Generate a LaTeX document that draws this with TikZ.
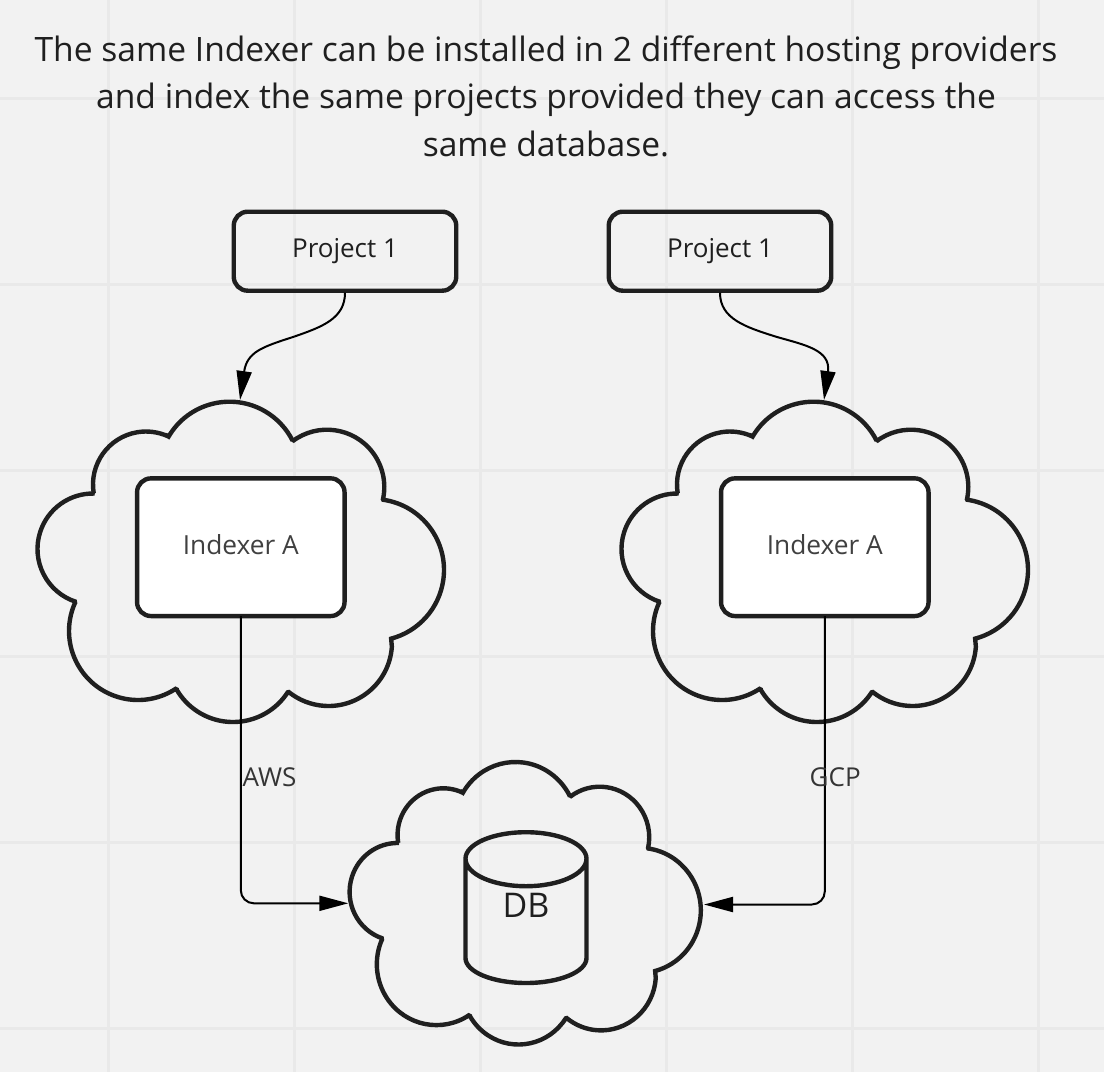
\documentclass[tikz,border=0pt]{standalone}
\usepackage{fontspec}
\setmainfont{Open Sans}
\usetikzlibrary{arrows.meta}
\definecolor{bgc}{HTML}{F2F2F2}
\definecolor{gridc}{HTML}{E9E9E9}
\definecolor{inkc}{HTML}{1F1F1F}
\definecolor{softc}{HTML}{404040}
\newcommand{\lobe}[5]{-- ([shift={(#4:#3)}]#1,-#2) arc[start angle=#4,end angle=#5,radius=#3]}
\tikzset{
  x=1pt,y=1pt,
  gridline/.style={draw=gridc,line width=3pt},
  outline/.style={draw=inkc,line width=4.4pt,line join=miter,miter limit=1.6},
  box/.style={draw=inkc,line width=4.4pt,rectangle,rounded corners=14pt,outer sep=0pt,inner sep=0pt,text=inkc},
  projectbox/.style={box,minimum width=222.5pt,minimum height=79pt,font=\fontsize{26}{30}\selectfont},
  indexerbox/.style={box,fill=white,minimum width=207.5pt,minimum height=137.7pt,text=softc,font=\fontsize{26.3}{30}\selectfont},
  link/.style={draw=black,line width=2pt},
  headed/.style={link,-{Triangle[length=29pt,width=15pt]}},
  tag/.style={text=inkc!90!white,inner sep=0pt,font=\fontsize{26}{30}\selectfont},
  cloudshape/.pic={
    \path[outline] (167.7,-436)
      \lobe{229.5}{472.3}{70.6}{149.6}{26.6}
      \lobe{327}{487}{57.3}{127.0}{-12.3}
      \lobe{373}{570}{71}{81.7}{-75.2}
      \lobe{328.5}{642.5}{63.5}{-3.8}{-128.7}
      \lobe{233}{656.8}{65.2}{-33}{-149.7}
      \lobe{138}{631}{69}{-56}{-204.4}
      \lobe{93}{549}{55.5}{252.1}{88.5}
      \lobe{146}{484.5}{53}{189.5}{65.9}
      -- cycle;
  }
}
\begin{document}
\begin{tikzpicture}
\path[use as bounding box,fill=bgc] (0,0) rectangle (1104,-1072);
\foreach \gx in {108,294,480,666,852,1038} \draw[gridline] (\gx,0) -- (\gx,-1072);
\foreach \gy in {98,284,470,656,842,1028} \draw[gridline] (0,-\gy) -- (1104,-\gy);

\node[align=center,text=inkc,inner sep=0pt,font=\fontsize{33.6}{47.5}\selectfont] (title) at (546,-96.2)
  {The same Indexer can be installed in 2 different hosting providers\\and index the same projects provided they can access the\\same database.};

\pic (cloudA) at (0,0) {cloudshape};
\pic (cloudB) at (584,0) {cloudshape};
\pic[xscale=0.864,yscale=0.882] (cloudDB) at (317.2,-407.7) {cloudshape};

\node[projectbox] (projA) at (345,-251.2) {\raisebox{1.5pt}{Project 1}};
\node[projectbox] (projB) at (720,-251.2) {\raisebox{1.5pt}{Project 1}};
\node[indexerbox] (idxA) at (240.8,-547.2) {\raisebox{5pt}{Indexer A}};
\node[indexerbox] (idxB) at (824.8,-547.2) {\raisebox{5pt}{Indexer A}};

\coordinate (tipA) at (240,-400);
\coordinate (tipB) at (824,-400);
\coordinate (dbW) at (348.3,-903.3);
\coordinate (dbE) at (704,-904.5);
\coordinate (midA) at (293,-337);
\coordinate (midB) at (777,-337);

\draw[headed] ([yshift=-2pt]projA.south) .. controls +(0,-26) and (322,-327) .. (midA) .. controls (262,-347) and (247,-352) .. (tipA);
\draw[headed] ([yshift=-2pt]projB.south) .. controls +(0,-26) and (745,-327) .. (midB) .. controls (805,-345) and (831,-350) .. (tipB);
\draw[headed,rounded corners=13pt] (idxA.south) |- (dbW);
\draw[headed,rounded corners=13pt] (idxB.south) |- (dbE);

\node[tag,anchor=west] (aws) at (242.5,-777) {AWS};
\node[tag,anchor=west] (gcp) at (809.5,-777) {GCP};

\draw[outline,line cap=round] (465.5,-858.7) arc[start angle=180,end angle=0,x radius=60.5,y radius=26.5]
  arc[start angle=0,end angle=-180,x radius=60.5,y radius=27.5] -- (465.5,-958)
  arc[start angle=180,end angle=360,x radius=60.5,y radius=25] -- (586.5,-858.7);
\node[inner sep=0pt,text=inkc,font=\fontsize{34}{40}\selectfont] (dbt) at (526,-905) {DB};
\end{tikzpicture}
\end{document}
